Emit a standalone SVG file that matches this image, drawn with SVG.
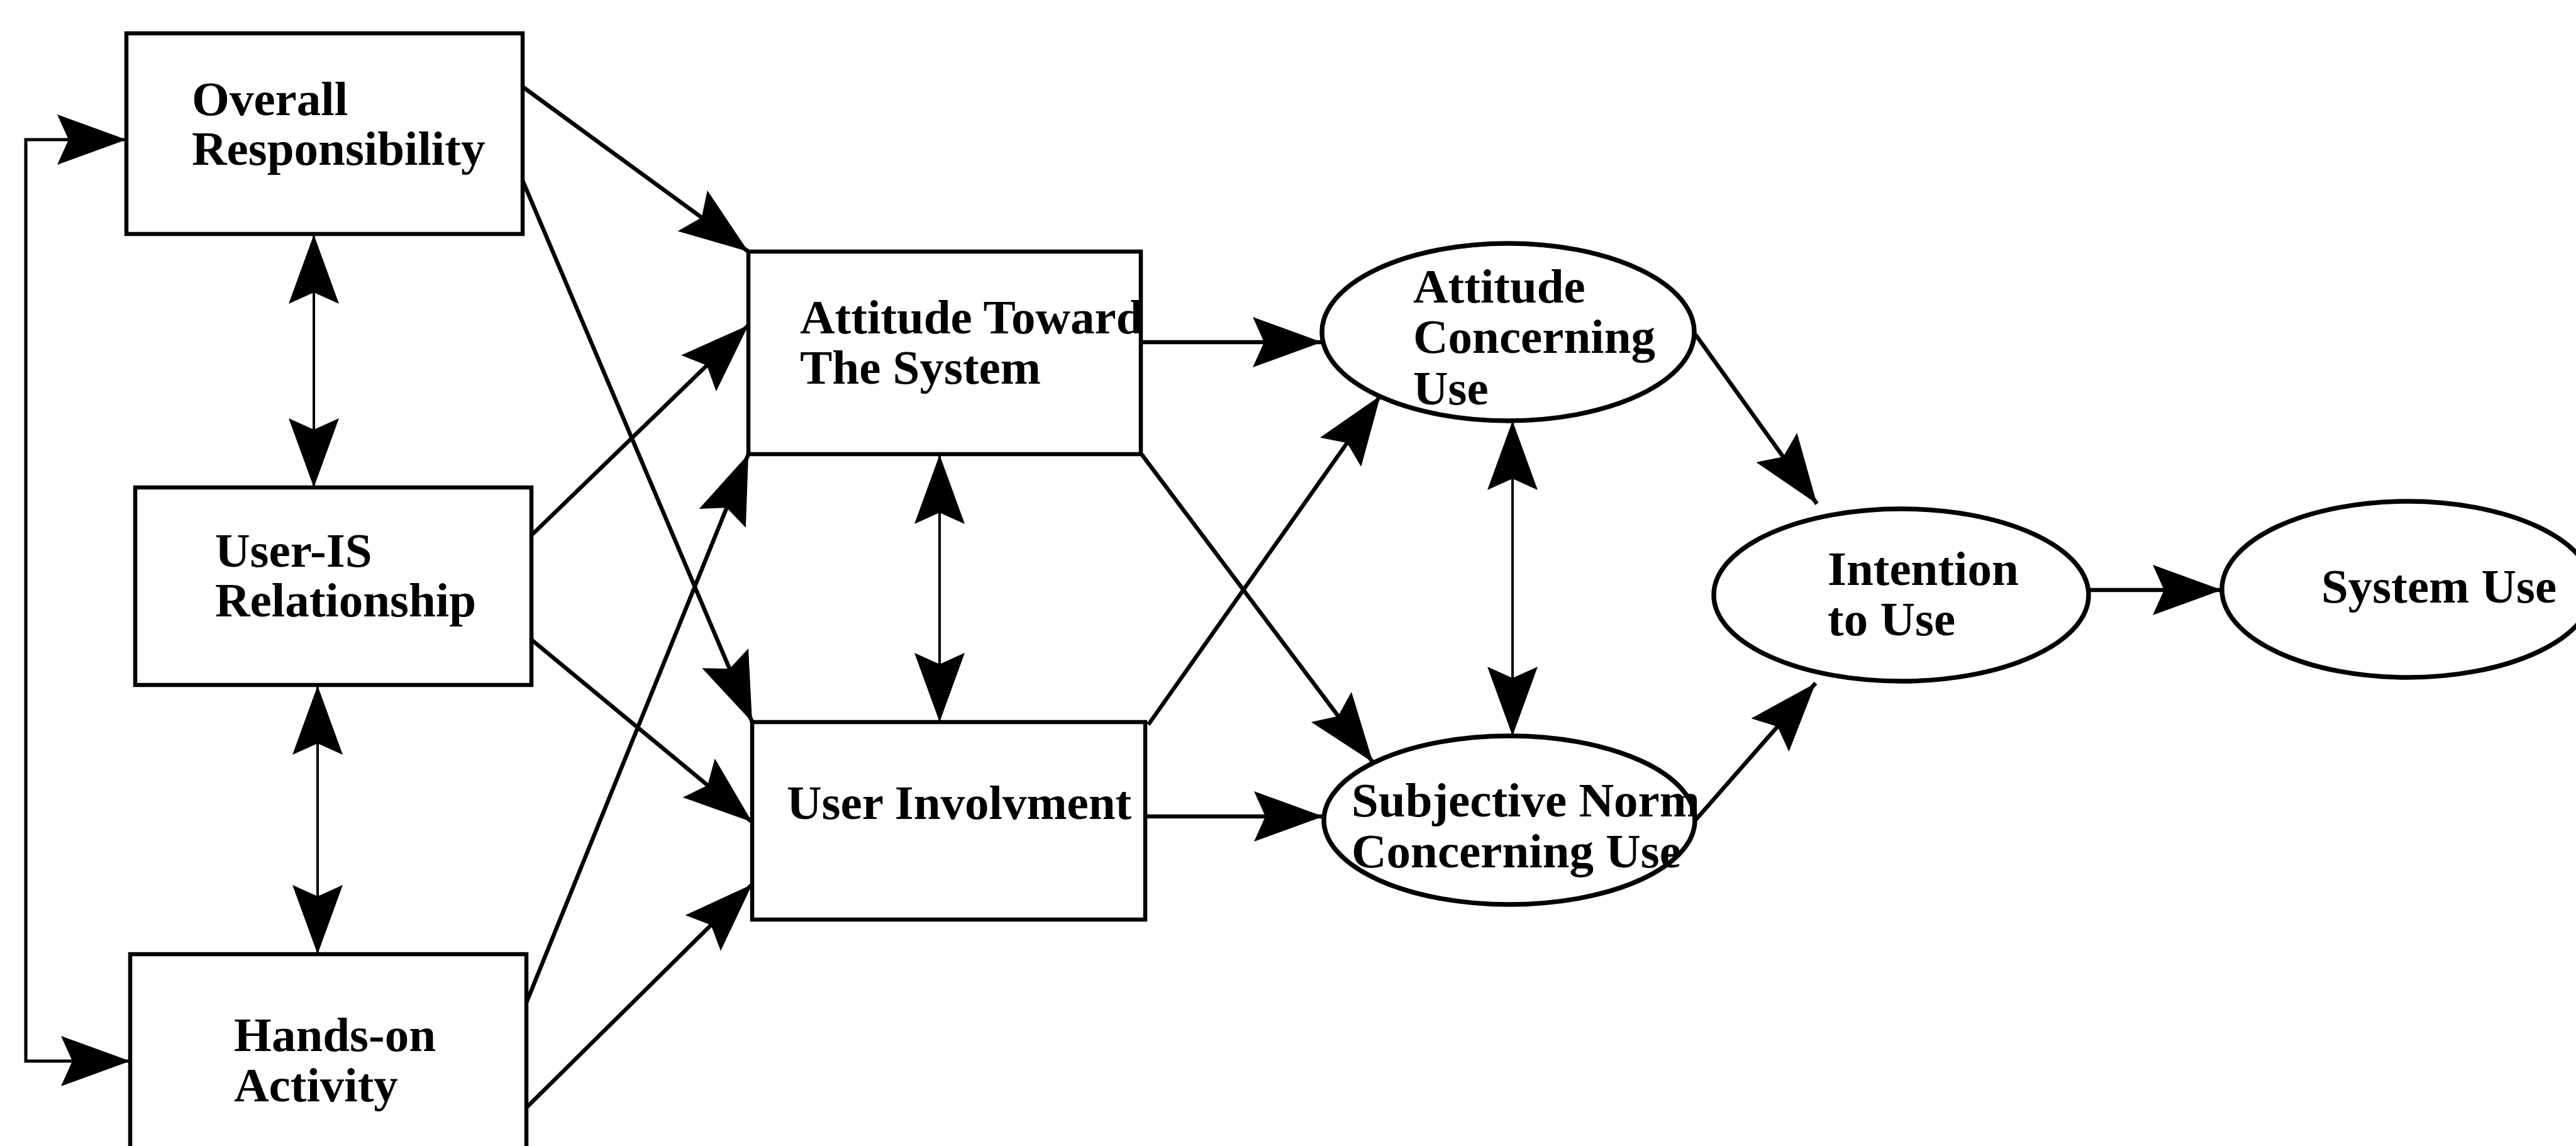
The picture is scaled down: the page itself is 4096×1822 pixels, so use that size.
<svg xmlns="http://www.w3.org/2000/svg" width="4096" height="1822" viewBox="0 0 4096 1822">
  <style>
    .box { fill: #fff; stroke: #000; stroke-width: 6.5; }
    .oval { fill: #fff; stroke: #000; stroke-width: 7.5; }
    .lbl { font-family: "Liberation Serif", "Times New Roman", serif; font-weight: bold; font-size: 77px; fill: #000; }
    .edge { fill: none; stroke: #000; stroke-width: 6.5; marker-end: url(#head); }
    .both { fill: none; stroke: #000; stroke-width: 4; marker-start: url(#headR); marker-end: url(#head); }
    .loop { fill: none; stroke: #000; stroke-width: 5; marker-start: url(#headR); marker-end: url(#head); }
  </style>
  <defs>
    <!-- concave filled arrowhead, tip at the path end -->
    <marker id="head" markerUnits="userSpaceOnUse" orient="auto" refX="0" refY="0" markerWidth="1" markerHeight="1" overflow="visible">
      <path d="M0,0 L-110,-40 L-92,0 L-110,40 Z" fill="#000"/>
    </marker>
    <marker id="headR" markerUnits="userSpaceOnUse" orient="auto-start-reverse" refX="0" refY="0" markerWidth="1" markerHeight="1" overflow="visible">
      <path d="M0,0 L-110,-40 L-92,0 L-110,40 Z" fill="#000"/>
    </marker>
  </defs>

  <rect width="4096" height="1822" fill="#fff"/>

  <g id="connectors">
    <!-- feedback loop between Overall Responsibility and Hands-on Activity -->
    <path class="loop" d="M201,222 L41,222 L41,1687 L207,1687"/>
    <!-- two-way links -->
    <path class="both" d="M499,373 L499,775"/>
    <path class="both" d="M505,1090 L505,1517"/>
    <path class="both" d="M1494,723 L1494,1148"/>
    <path class="both" d="M2405,669 L2405,1170"/>
    <!-- left column to middle column -->
    <path class="edge" d="M831,138 L1190,400"/>
    <path class="edge" d="M831,287 L1196,1148"/>
    <path class="edge" d="M845,851 L1190,517"/>
    <path class="edge" d="M845,1017 L1196,1307"/>
    <path class="edge" d="M837,1594 L1190,722"/>
    <path class="edge" d="M837,1761 L1196,1406"/>
    <!-- middle column to ovals -->
    <path class="edge" d="M1814,544 L2102,544"/>
    <path class="edge" d="M1821,1298 L2104,1298"/>
    <path class="edge" d="M1815,722 L2183,1212"/>
    <path class="edge" d="M1826,1152 L2195,629"/>
    <!-- ovals to intention, intention to use -->
    <path class="edge" d="M2696,532 L2889,801"/>
    <path class="edge" d="M2694,1306 L2887,1086"/>
    <path class="edge" d="M3321,938 L3533,938"/>
  </g>

  <g id="overall-responsibility">
    <rect class="box" x="201" y="53" width="630" height="319"/>
    <text class="lbl" x="305" y="183">Overall</text>
    <text class="lbl" x="305" y="262">Responsibility</text>
  </g>

  <g id="user-is-relationship">
    <rect class="box" x="215" y="775" width="630" height="314"/>
    <text class="lbl" x="342" y="901">User-IS</text>
    <text class="lbl" x="342" y="980">Relationship</text>
  </g>

  <g id="hands-on-activity">
    <rect class="box" x="207" y="1517" width="630" height="340"/>
    <text class="lbl" x="372" y="1671">Hands-on</text>
    <text class="lbl" x="372" y="1751">Activity</text>
  </g>

  <g id="attitude-toward-system">
    <rect class="box" x="1190" y="400" width="624" height="322"/>
    <text class="lbl" x="1272" y="530">Attitude Toward</text>
    <text class="lbl" x="1272" y="610">The System</text>
  </g>

  <g id="user-involvement">
    <rect class="box" x="1196" y="1148" width="625" height="314"/>
    <text class="lbl" x="1251" y="1302">User Involvment</text>
  </g>

  <g id="attitude-concerning-use">
    <ellipse class="oval" cx="2398" cy="528" rx="296" ry="141"/>
    <text class="lbl" x="2247" y="481">Attitude</text>
    <text class="lbl" x="2247" y="561">Concerning</text>
    <text class="lbl" x="2247" y="643">Use</text>
  </g>

  <g id="subjective-norm">
    <ellipse class="oval" cx="2400" cy="1304" rx="295" ry="134"/>
    <text class="lbl" x="2149" y="1298">Subjective Norm</text>
    <text class="lbl" x="2149" y="1379">Concerning Use</text>
  </g>

  <g id="intention-to-use">
    <ellipse class="oval" cx="3023" cy="946" rx="298" ry="137"/>
    <text class="lbl" x="2906" y="930">Intention</text>
    <text class="lbl" x="2906" y="1010">to Use</text>
  </g>

  <g id="system-use">
    <ellipse class="oval" cx="3828" cy="937" rx="295" ry="140"/>
    <text class="lbl" x="3691" y="958">System Use</text>
  </g>
</svg>
